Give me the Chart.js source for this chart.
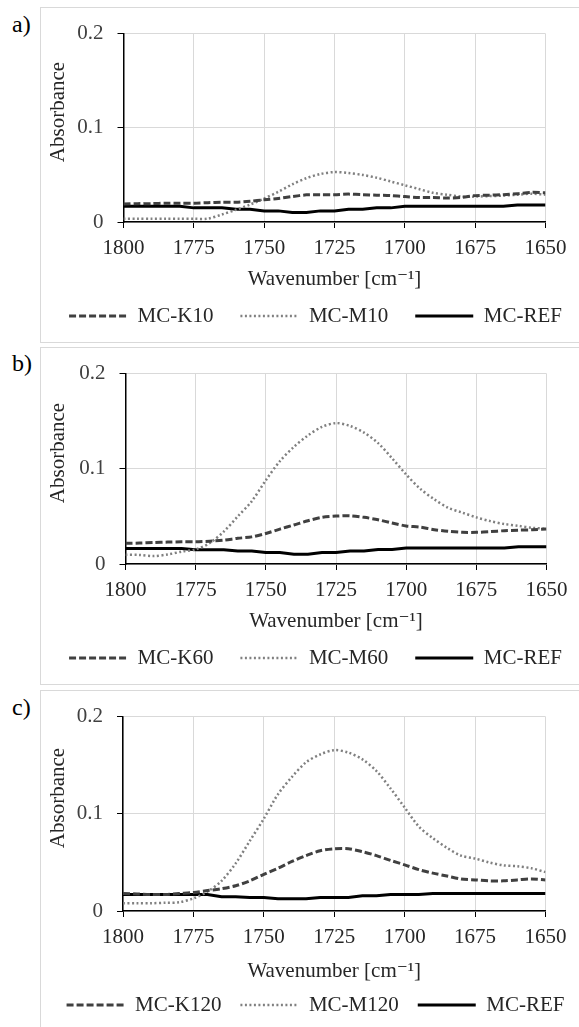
<!DOCTYPE html>
<html>
<head>
<meta charset="utf-8">
<script src="https://cdn.jsdelivr.net/npm/chart.js@4.4.0/dist/chart.umd.min.js"></script>
<style>
  body { margin: 0; background: #fff; width: 579px; height: 1027px; overflow: hidden; position: relative; font-family: 'Liberation Serif', 'Times New Roman', 'DejaVu Serif', serif; }
  .box { position: absolute; border: 1px solid #d9d9d9; box-sizing: border-box; }
  .tag { position: absolute; left: 12px; font-size: 24px; line-height: 24px; color: #000; }
  canvas { position: absolute; left: 40px; }
</style>
</head>
<body>
<div class="box" style="left:40px;top:7px;width:560px;height:336px"></div>
<div class="box" style="left:40px;top:347px;width:560px;height:338px"></div>
<div class="box" style="left:40px;top:690px;width:560px;height:400px"></div>
<div class="tag" style="top:12px">a)</div>
<div class="tag" style="top:351px">b)</div>
<div class="tag" style="top:695px">c)</div>
<canvas id="chart-a" width="551" height="335" style="top:7px"></canvas>
<canvas id="chart-b" width="551" height="338" style="top:347px"></canvas>
<canvas id="chart-c" width="551" height="337" style="top:690px"></canvas>
<script>
const wavenumbers = [1800, 1795, 1790, 1785, 1780, 1775, 1770, 1765, 1760, 1755, 1750, 1745, 1740, 1735, 1730, 1725,
  1720, 1715, 1710, 1705, 1700, 1695, 1690, 1685, 1680, 1675, 1670, 1665, 1660, 1655, 1650];
const xTicks = [1800, 1775, 1750, 1725, 1700, 1675, 1650];
const yTicks = [0, 0.1, 0.2];

// a) 10
const k10 = [0.019, 0.0195, 0.0195, 0.020, 0.020, 0.020, 0.0205, 0.021, 0.021, 0.022, 0.0236, 0.025, 0.027, 0.0288, 0.029, 0.029,
  0.0296, 0.029, 0.0285, 0.028, 0.027, 0.026, 0.026, 0.0255, 0.026, 0.028, 0.0285, 0.029, 0.030, 0.0315, 0.031];
const m10 = [0.0034, 0.0034, 0.0034, 0.0034, 0.0034, 0.0034, 0.0036, 0.008, 0.013, 0.0185, 0.025, 0.032, 0.040, 0.0465, 0.051, 0.053,
  0.052, 0.050, 0.047, 0.043, 0.039, 0.035, 0.031, 0.029, 0.027, 0.027, 0.0275, 0.028, 0.029, 0.030, 0.029];
const refA = [0.0168, 0.0168, 0.0168, 0.0168, 0.0168, 0.015, 0.015, 0.015, 0.0135, 0.0135, 0.0118, 0.0118, 0.010, 0.010, 0.0118, 0.0118,
  0.0135, 0.0135, 0.015, 0.015, 0.0168, 0.0168, 0.0168, 0.0168, 0.0168, 0.0168, 0.0168, 0.0168, 0.018, 0.018, 0.018];

// b) 60
const k60 = [0.0217, 0.022, 0.0225, 0.023, 0.0233, 0.0233, 0.024, 0.025, 0.027, 0.0285, 0.032, 0.0367, 0.041, 0.0455, 0.049, 0.0503,
  0.0507, 0.049, 0.0465, 0.043, 0.040, 0.0387, 0.036, 0.0343, 0.0333, 0.0333, 0.034, 0.035, 0.0355, 0.036, 0.0367];
const m60 = [0.0097, 0.0095, 0.0083, 0.010, 0.013, 0.0153, 0.022, 0.034, 0.050, 0.066, 0.088, 0.108, 0.123, 0.135, 0.144, 0.148,
  0.145, 0.138, 0.127, 0.111, 0.094, 0.079, 0.068, 0.059, 0.054, 0.049, 0.045, 0.042, 0.040, 0.038, 0.037];
const refB = [0.0163, 0.0163, 0.0163, 0.0163, 0.0163, 0.015, 0.015, 0.015, 0.0137, 0.0137, 0.012, 0.012, 0.0103, 0.0103, 0.012, 0.012,
  0.0137, 0.0137, 0.0153, 0.0153, 0.0167, 0.0167, 0.0167, 0.0167, 0.0167, 0.0167, 0.0167, 0.0167, 0.018, 0.018, 0.018];

// c) 120
const k120 = [0.018, 0.0175, 0.017, 0.017, 0.018, 0.019, 0.021, 0.023, 0.026, 0.031, 0.0377, 0.044, 0.051, 0.057, 0.062, 0.064,
  0.064, 0.061, 0.057, 0.052, 0.0475, 0.0426, 0.039, 0.036, 0.033, 0.032, 0.031, 0.031, 0.032, 0.033, 0.032];
const m120 = [0.0079, 0.008, 0.008, 0.0085, 0.009, 0.013, 0.020, 0.031, 0.049, 0.072, 0.095, 0.120, 0.138, 0.153, 0.161, 0.1655,
  0.163, 0.156, 0.144, 0.126, 0.1065, 0.087, 0.075, 0.065, 0.057, 0.054, 0.050, 0.047, 0.046, 0.044, 0.040];
const refC = [0.017, 0.017, 0.017, 0.017, 0.017, 0.017, 0.017, 0.0147, 0.0147, 0.0138, 0.0138, 0.0125, 0.0125, 0.0125, 0.014, 0.014,
  0.014, 0.0157, 0.0157, 0.017, 0.017, 0.017, 0.018, 0.018, 0.018, 0.018, 0.018, 0.018, 0.018, 0.018, 0.018];

const FONT = "'Liberation Serif', 'Times New Roman', 'DejaVu Serif', serif";

function toPoints(values) {
  return wavenumbers.map((x, i) => ({ x: x, y: values[i] }));
}

// legend lines take the dataset's dash and width, not the point's
function lineLabels(chart) {
  return Chart.defaults.plugins.legend.labels.generateLabels(chart).map(item => {
    const ds = chart.data.datasets[item.datasetIndex];
    item.lineDash = ds.borderDash;
    item.lineWidth = ds.borderWidth;
    item.strokeStyle = ds.borderColor;
    return item;
  });
}

function makePanel(id, labels, series, layout) {
  const styles = [
    { borderColor: '#404040', borderWidth: 3, borderDash: [7, 3], tension: 0.3 },
    { borderColor: '#808080', borderWidth: 2.5, borderDash: [2, 2.5], tension: 0.3 },
    { borderColor: '#000000', borderWidth: 3, borderDash: [], tension: 0 },
  ];

  const datasets = series.map((values, i) => ({
    label: labels[i],
    data: toPoints(values),
    pointRadius: 0,
    fill: false,
    ...styles[i],
  }));

  return new Chart(document.getElementById(id), {
    type: 'line',
    data: { datasets },
    options: {
      responsive: false,
      animation: false,
      layout: { padding: { top: layout.top, bottom: layout.bottom, left: 0, right: 0 } },
      plugins: {
        tooltip: { enabled: false },
        legend: {
          position: 'bottom',
          labels: {
            usePointStyle: true,
            pointStyle: 'line',
            pointStyleWidth: 58,
            padding: layout.legendPad,
            color: '#262626',
            font: { family: FONT, size: 21 },
            generateLabels: lineLabels,
          },
        },
      },
      scales: {
        x: {
          type: 'linear',
          reverse: true,
          min: 1650,
          max: 1800,
          afterBuildTicks: s => { s.ticks = xTicks.map(v => ({ value: v })); },
          afterFit: s => { s.height = layout.xHeight; },
          ticks: {
            padding: 8,
            color: '#262626',
            font: { family: FONT, size: 21 },
            callback: v => String(v),
          },
          grid: { color: '#d9d9d9', lineWidth: 1, tickColor: '#000', tickLength: 6 },
          border: { color: '#000', width: 1.5 },
          title: {
            display: true,
            text: 'Wavenumber [cm⁻¹]',
            color: '#262626',
            font: { family: FONT, size: 21 },
            padding: { top: 0, bottom: layout.titlePad },
          },
        },
        y: {
          min: 0,
          max: 0.2,
          afterBuildTicks: s => { s.ticks = yTicks.map(v => ({ value: v })); },
          afterFit: s => { s.width = layout.yWidth; },
          ticks: {
            padding: 14,
            color: '#404040',
            font: { family: FONT, size: 21 },
            callback: v => (v === 0 ? '0' : v.toFixed(1)),
          },
          grid: { color: '#d9d9d9', lineWidth: 1, tickColor: '#000', tickLength: 6 },
          border: { color: '#000', width: 1.5 },
          title: {
            display: true,
            text: '      Absorbance',
            color: '#262626',
            font: { family: FONT, size: 21 },
            padding: { top: 6, bottom: 4 },
          },
        },
        // empty right-hand space so the legend centres like the original
        right: {
          position: 'right',
          display: true,
          grid: { display: false, drawTicks: false },
          ticks: { display: false },
          border: { display: false },
          afterFit: s => { s.width = layout.rightGap; },
        },
      },
    },
  });
}

makePanel('chart-a', ['MC-K10', 'MC-M10', 'MC-REF'], [k10, m10, refA],
  { top: 17, bottom: 5.5, yWidth: 83.5, rightGap: 45.5, xHeight: 56.5, titlePad: -14, legendPad: 27 });
makePanel('chart-b', ['MC-K60', 'MC-M60', 'MC-REF'], [k60, m60, refB],
  { top: 17, bottom: 6.5, yWidth: 85.5, rightGap: 44.5, xHeight: 56.5, titlePad: -14, legendPad: 27 });
makePanel('chart-c', ['MC-K120', 'MC-M120', 'MC-REF'], [k120, m120, refC],
  { top: 18, bottom: 1.5, yWidth: 83, rightGap: 45.5, xHeight: 64.5, titlePad: -9, legendPad: 19 });
</script>
</body>
</html>
